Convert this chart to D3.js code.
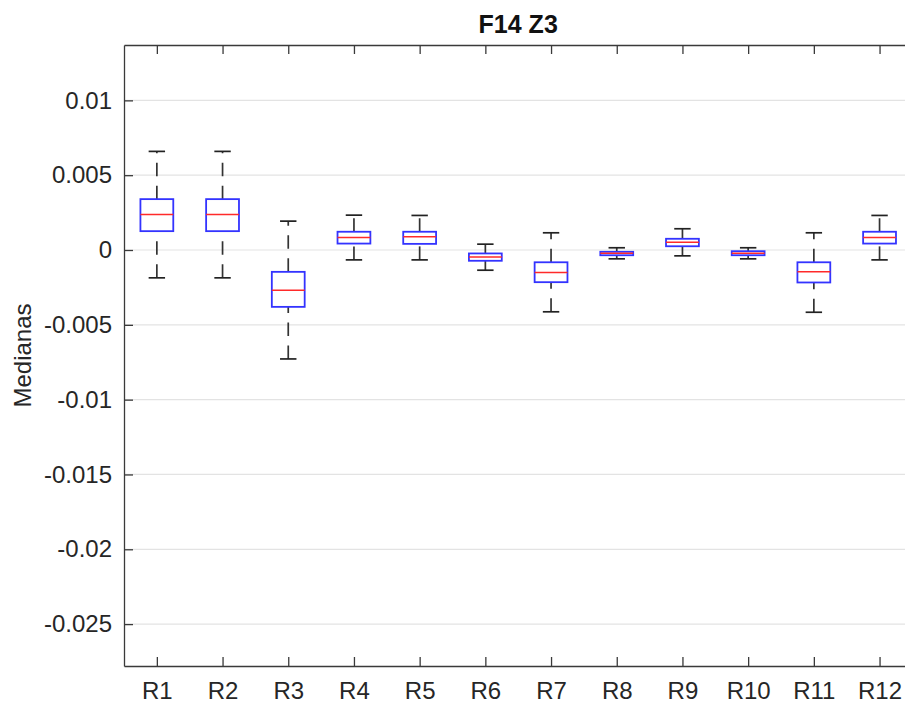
<!DOCTYPE html>
<html>
<head>
<meta charset="utf-8">
<script src="https://cdn.jsdelivr.net/npm/d3@7"></script>
<style>
  html, body { margin: 0; padding: 0; background: #fff; }
  svg { display: block; font-family: "Liberation Sans", Arial, Helvetica, sans-serif; }
</style>
</head>
<body>
<svg id="chart" width="905" height="706"></svg>
<script>
// Box plot summary per group
const categories = ["R1","R2","R3","R4","R5","R6","R7","R8","R9","R10","R11","R12"];
const whiskerLow  = [-0.00186, -0.00186, -0.00728, -0.00066, -0.00066, -0.00135, -0.00413, -0.00059, -0.00039, -0.00059, -0.00416, -0.00066];
const quartile1   = [ 0.00126,  0.00126, -0.00380,  0.00043,  0.00041, -0.00072, -0.00215, -0.00035,  0.00025, -0.00035, -0.00217,  0.00043];
const medians     = [ 0.00237,  0.00237, -0.00269,  0.00084,  0.00088, -0.00046, -0.00150, -0.00021,  0.00052, -0.00021, -0.00146,  0.00084];
const quartile3   = [ 0.00340,  0.00340, -0.00146,  0.00122,  0.00122, -0.00023, -0.00082, -0.00012,  0.00075, -0.00008, -0.00082,  0.00122];
const whiskerHigh = [ 0.00659,  0.00659,  0.00193,  0.00233,  0.00231,  0.00039,  0.00115,  0.00015,  0.00142,  0.00015,  0.00115,  0.00231];
const yTicks = [0.01, 0.005, 0, -0.005, -0.01, -0.015, -0.02, -0.025];
const yTickLabels = ["0.01", "0.005", "0", "-0.005", "-0.01", "-0.015", "-0.02", "-0.025"];
const titleText = "F14 Z3";
const yLabelText = "Medianas";

const svg = d3.select("#chart");
const plotLeft = 124, plotRight = 912.4, plotTop = 45, plotBottom = 666;

const x = d3.scaleLinear().domain([0.5, categories.length + 0.5]).range([plotLeft, plotRight]);
const y = d3.scaleLinear().domain([-0.0278, 0.0137]).range([plotBottom, plotTop]);

const axisColor = "#3a3a3a";
const textColor = "#262626";

// horizontal grid
svg.append("g").selectAll("line").data(yTicks).join("line")
  .attr("x1", plotLeft).attr("x2", plotRight)
  .attr("y1", d => y(d)).attr("y2", d => y(d))
  .attr("stroke", "#e3e3e3").attr("stroke-width", 1.2);

// axes with inward ticks
const yAxis = d3.axisLeft(y).tickValues(yTicks)
  .tickFormat((d, i) => yTickLabels[i]).tickSizeInner(-9).tickSizeOuter(0).tickPadding(12);
const gy = svg.append("g").attr("transform", `translate(${plotLeft},0)`).call(yAxis);

const xAxis = d3.axisBottom(x).tickValues(d3.range(1, categories.length + 1))
  .tickFormat(d => categories[d - 1]).tickSizeInner(-9).tickSizeOuter(0).tickPadding(16);
const gx = svg.append("g").attr("transform", `translate(0,${plotBottom})`).call(xAxis);

const xTop = d3.axisTop(x).tickValues(d3.range(1, categories.length + 1))
  .tickFormat("").tickSizeInner(-9).tickSizeOuter(0);
const gt = svg.append("g").attr("transform", `translate(0,${plotTop})`).call(xTop);

[gy, gx, gt].forEach(g => {
  g.select(".domain").attr("stroke", axisColor).attr("stroke-width", 1.3);
  g.selectAll(".tick line").attr("stroke", axisColor).attr("stroke-width", 1.3);
  g.selectAll(".tick text").attr("fill", textColor)
    .style("font-size", "24px").style("font-family", "'Liberation Sans', Arial, sans-serif");
});
// right edge of the axes box
svg.append("line").attr("x1", plotRight).attr("x2", plotRight).attr("y1", plotTop).attr("y2", plotBottom)
  .attr("stroke", axisColor).attr("stroke-width", 1.3);

// boxes
const data = categories.map((c, i) => ({
  c, pos: i + 1, lo: whiskerLow[i], q1: quartile1[i], med: medians[i], q3: quartile3[i], hi: whiskerHigh[i]
}));
const halfBox = 0.25, halfCap = 0.125;
const g = svg.append("g");
const groups = g.selectAll("g").data(data).join("g");

// whiskers, drawn from the lower value upwards
groups.append("line")
  .attr("x1", d => x(d.pos)).attr("x2", d => x(d.pos))
  .attr("y1", d => y(d.q3)).attr("y2", d => y(d.hi))
  .attr("stroke", "#333").attr("stroke-width", 1.7).attr("stroke-dasharray", "13.5,9.5");
groups.append("line")
  .attr("x1", d => x(d.pos)).attr("x2", d => x(d.pos))
  .attr("y1", d => y(d.lo)).attr("y2", d => y(d.q1))
  .attr("stroke", "#333").attr("stroke-width", 1.7).attr("stroke-dasharray", "13.5,9.5");
// caps
["hi", "lo"].forEach(k => {
  groups.append("line")
    .attr("x1", d => x(d.pos - halfCap)).attr("x2", d => x(d.pos + halfCap))
    .attr("y1", d => y(d[k])).attr("y2", d => y(d[k]))
    .attr("stroke", "#222").attr("stroke-width", 1.7);
});
// box
groups.append("rect")
  .attr("x", d => x(d.pos - halfBox)).attr("width", d => x(d.pos + halfBox) - x(d.pos - halfBox))
  .attr("y", d => y(d.q3)).attr("height", d => y(d.q1) - y(d.q3))
  .attr("fill", "none").attr("stroke", "#3333ff").attr("stroke-width", 1.8);
// median
groups.append("line")
  .attr("x1", d => x(d.pos - halfBox)).attr("x2", d => x(d.pos + halfBox))
  .attr("y1", d => y(d.med)).attr("y2", d => y(d.med))
  .attr("stroke", "#ff2a2a").attr("stroke-width", 1.5);

// title
svg.append("text").attr("x", (plotLeft + plotRight) / 2).attr("y", 33)
  .attr("text-anchor", "middle").attr("font-weight", "bold")
  .attr("font-size", 25).attr("fill", "#111").text(titleText);

// y label
svg.append("text")
  .attr("transform", `translate(31,${(plotTop + plotBottom) / 2}) rotate(-90)`)
  .attr("text-anchor", "middle").attr("font-size", 24).attr("fill", textColor)
  .text(yLabelText);
</script>
</body>
</html>
